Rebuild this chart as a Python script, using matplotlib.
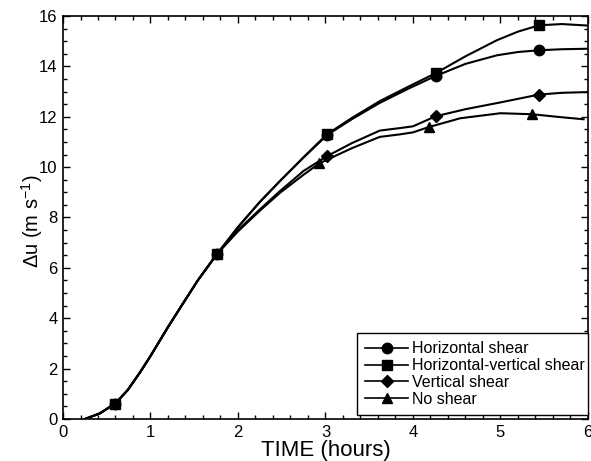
import matplotlib
matplotlib.use("Agg")
import matplotlib.pyplot as plt
from matplotlib.ticker import MultipleLocator

plt.rcParams["font.family"] = ["Liberation Sans", "DejaVu Sans"]
plt.rcParams["mathtext.default"] = "regular"

# common growth before the curves split (hours, m/s)
t_common = [0.25, 0.42, 0.59, 0.66, 0.74, 0.88, 1.0, 1.2, 1.37, 1.54, 1.76]
u_common = [0.0, 0.22, 0.6, 0.85, 1.15, 1.85, 2.5, 3.65, 4.58, 5.5, 6.55]

# curves after the split
t_hv = [2.0, 2.25, 2.48, 2.75, 3.02, 3.3, 3.62, 3.95, 4.26, 4.6, 4.96, 5.2, 5.44, 5.7, 6.0]
u_hv = [7.62, 8.62, 9.45, 10.4, 11.31, 11.95, 12.62, 13.2, 13.73, 14.4, 15.04, 15.38, 15.63, 15.68, 15.62]

t_h = [2.0, 2.25, 2.48, 2.75, 3.02, 3.3, 3.62, 3.95, 4.26, 4.6, 4.96, 5.2, 5.44, 5.7, 6.0]
u_h = [7.62, 8.62, 9.45, 10.38, 11.28, 11.9, 12.55, 13.12, 13.62, 14.1, 14.44, 14.57, 14.64, 14.68, 14.7]

t_v = [2.0, 2.25, 2.48, 2.75, 3.02, 3.3, 3.62, 3.85, 4.0, 4.26, 4.6, 5.0, 5.44, 5.7, 6.0]
u_v = [7.5, 8.32, 9.05, 9.85, 10.44, 10.95, 11.45, 11.55, 11.62, 12.02, 12.3, 12.57, 12.88, 12.95, 12.98]

t_n = [2.0, 2.25, 2.48, 2.75, 2.93, 3.3, 3.62, 3.85, 4.0, 4.18, 4.54, 5.0, 5.36, 5.7, 5.95]
u_n = [7.45, 8.27, 8.98, 9.7, 10.15, 10.75, 11.2, 11.3, 11.38, 11.59, 11.94, 12.14, 12.1, 11.98, 11.9]

# marker positions
mt_h = [0.59, 1.76, 3.02, 4.26, 5.44]
mu_h = [0.6, 6.55, 11.28, 13.62, 14.64]
mt_hv = [0.59, 1.76, 3.02, 4.26, 5.44]
mu_hv = [0.6, 6.55, 11.31, 13.73, 15.63]
mt_v = [3.02, 4.26, 5.44]
mu_v = [10.44, 12.02, 12.88]
mt_n = [2.93, 4.18, 5.36]
mu_n = [10.18, 11.59, 12.1]

fig = plt.figure(figsize=(5.91, 4.61), dpi=100)
ax = fig.add_axes([0.1066, 0.0911, 0.8883, 0.8742])

series = [
    ("Horizontal shear", t_h, u_h, mt_h, mu_h, "o", 7.5),
    ("Horizontal-vertical shear", t_hv, u_hv, mt_hv, mu_hv, "s", 7.5),
    ("Vertical shear", t_v, u_v, mt_v, mu_v, "D", 6.5),
    ("No shear", t_n, u_n, mt_n, mu_n, "^", 6.5),
]

for label, t, u, mt, mu, mk, ms in series:
    ax.plot(t_common + t, u_common + u, color="black", lw=1.5)
    ax.plot(mt, mu, linestyle="none", marker=mk, ms=ms, color="black")
    # legend proxy
    ax.plot([], [], color="black", lw=1.2, marker=mk, ms=ms, label=label)

ax.set_xlim(0, 6)
ax.set_ylim(0, 16)
ax.xaxis.set_major_locator(MultipleLocator(1))
ax.xaxis.set_minor_locator(MultipleLocator(0.2))
ax.yaxis.set_major_locator(MultipleLocator(2))
ax.yaxis.set_minor_locator(MultipleLocator(0.5))
ax.tick_params(which="both", direction="in", top=True, right=True, width=1)
ax.tick_params(which="major", length=5, labelsize=12, pad=4)
ax.tick_params(which="minor", length=3)
for sp in ax.spines.values():
    sp.set_linewidth(1.2)

ax.set_xlabel("TIME (hours)", fontsize=16, labelpad=0)
ax.set_ylabel("Δu (m s$^{-1}$)", fontsize=14.5)
ax.yaxis.set_label_coords(-0.034, 0.49)

leg = ax.legend(loc="lower left", bbox_to_anchor=(0.56, 0.01, 0.44, 0.2), mode="expand",
                fontsize=11.5, frameon=True, fancybox=False, handlelength=2.7,
                handletextpad=0.25, labelspacing=0.12, borderpad=0.5, borderaxespad=0)
leg.get_frame().set_edgecolor("black")
leg.get_frame().set_linewidth(1.0)
leg.get_frame().set_alpha(1)

fig.savefig("out.png", dpi=100)
